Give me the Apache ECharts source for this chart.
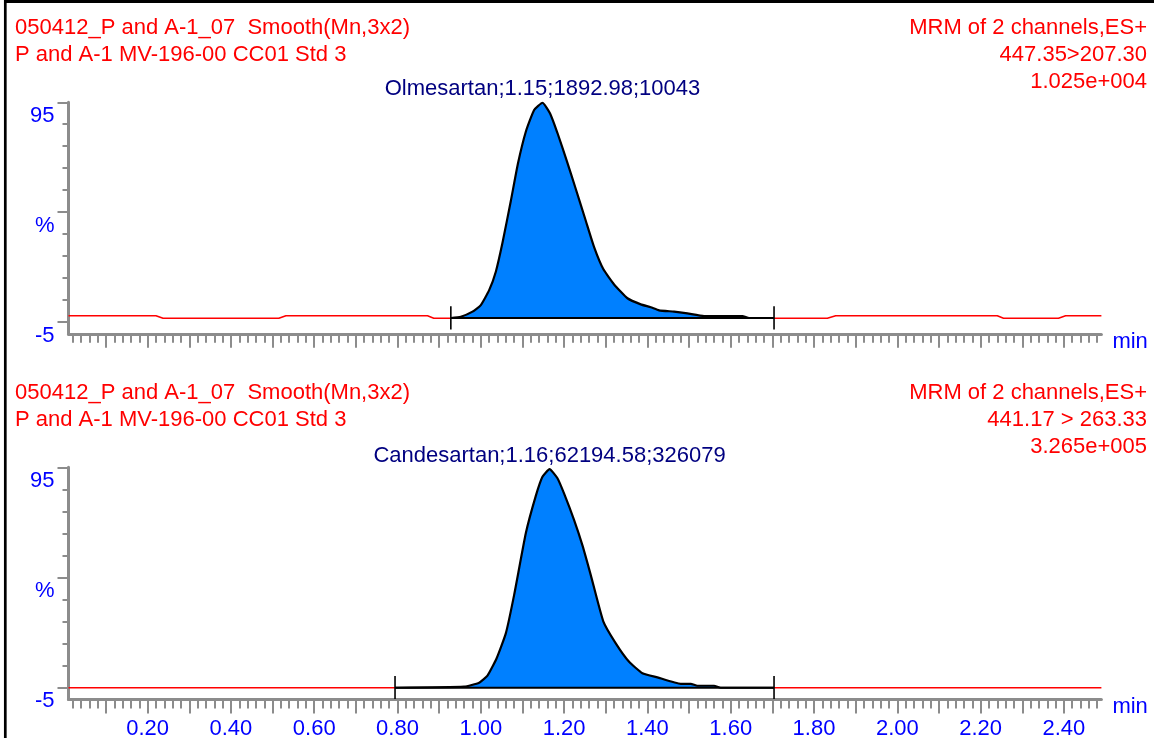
<!DOCTYPE html>
<html><head><meta charset="utf-8">
<script src="https://cdn.jsdelivr.net/npm/echarts@6/dist/echarts.min.js"></script>
<style>html,body{margin:0;padding:0;background:#fff}#c{width:1154px;height:738px}</style>
</head><body><div id="c"></div>
<script>
// ---------- texts ----------
const headerLeftTop = ['050412_P and A-1_07  Smooth(Mn,3x2)', 'P and A-1 MV-196-00 CC01 Std 3'];
const headerRightTop = ['MRM of 2 channels,ES+', '447.35>207.30', '1.025e+004'];
const headerLeftBottom = ['050412_P and A-1_07  Smooth(Mn,3x2)', 'P and A-1 MV-196-00 CC01 Std 3'];
const headerRightBottom = ['MRM of 2 channels,ES+', '441.17 > 263.33', '3.265e+005'];
const peakLabelTop = 'Olmesartan;1.15;1892.98;10043';
const peakLabelBottom = 'Candesartan;1.16;62194.58;326079';
const xAxisName = 'min';

// ---------- axes ----------
const xRange = [0.01, 2.49];
const yRange = [-10.5, 95];
const xLabelValues = [0.2, 0.4, 0.6, 0.8, 1.0, 1.2, 1.4, 1.6, 1.8, 2.0, 2.2, 2.4];
const yLabelValues = [-5, 45, 95];
const yLabelTexts = ['-5', '%', '95'];
const yMinorTicks = [-5, 5, 15, 25, 35, 45, 55, 65, 75, 85, 95];

// ---------- top chromatogram (Olmesartan) ----------
const topTraceLeft = [[0.01,-2.3],[0.22,-2.3],[0.237,-3.4],[0.515,-3.4],[0.532,-2.3],[0.872,-2.3],[0.887,-3.4],[0.928,-3.4]];
const topTraceRight = [[1.704,-3.4],[1.832,-3.4],[1.852,-2.3],[2.240,-2.3],[2.255,-3.4],[2.387,-3.4],[2.404,-2.3],[2.49,-2.3]];
const topPeak = [[0.928,-3.3],[0.952,-2.7],[0.980,-0.4],[1.000,2.6],[1.020,9.4],[1.036,17.8],[1.052,31.0],[1.072,50.0],
  [1.089,67.0],[1.108,81.6],[1.128,91.5],[1.148,94.8],[1.166,90.0],[1.184,81.0],[1.206,68.5],[1.228,55.5],[1.252,41.0],
  [1.272,29.0],[1.294,19.0],[1.320,12.0],[1.352,5.7],[1.384,2.9],[1.408,1.6],[1.428,0.2],[1.464,-0.4],[1.496,-1.2],
  [1.536,-2.4],[1.628,-2.4],[1.644,-3.3],[1.704,-3.3]];
const topIntegration = {start: 0.928, end: 1.704, base: -3.3, markTop: 2.1, markBottom: -8.5};

// ---------- bottom chromatogram (Candesartan) ----------
const bottomTraceLeft = [[0.01,-5.2],[0.794,-5.2]];
const bottomTraceRight = [[1.704,-5.2],[2.49,-5.2]];
const bottomPeak = [[0.794,-5.2],[0.960,-4.7],[0.996,-2.9],[1.016,0.3],[1.038,8.2],[1.060,19.5],[1.080,37.0],[1.108,65.0],
  [1.132,82.0],[1.148,90.7],[1.165,94.2],[1.184,90.0],[1.200,83.0],[1.224,71.0],[1.244,59.5],[1.264,46.0],[1.294,25.0],
  [1.324,15.0],[1.356,6.6],[1.388,1.4],[1.424,-0.5],[1.480,-3.4],[1.504,-3.4],[1.520,-4.3],[1.560,-4.3],[1.576,-5.2],[1.704,-5.2]];
const bottomIntegration = {start: 0.794, end: 1.704, base: -5.2, markTop: 0.1, markBottom: -10.3};

// ---------- style ----------
const FONT = '"Liberation Sans", Arial, sans-serif';
const FS = 22;
const AXIS_GREY = '#8c8c8c';
const LABEL_BLUE = '#0000ff';
const HEAD_RED = '#ff0000';
const PEAK_NAVY = '#000080';
const FILL_BLUE = '#0080ff';

const grids = [
  {left: 68.5, width: 1032.9, top: 102.3, height: 231.5, outerBoundsMode: 'none'},
  {left: 68.5, width: 1032.9, top: 467.3, height: 232.1, outerBoundsMode: 'none'}
];

const xMinorTicks = [];
for (let i = 1; i <= 124; i++) xMinorTicks.push(Math.round(i * 2) / 100);
const xMajorTicks = [];
for (let i = 1; i <= 24; i++) xMajorTicks.push(i / 10);

function xAxesFor(g, showLabels) {
  return [
    {gridIndex: g, type: 'value', position: 'bottom', min: xRange[0], max: xRange[1],
      axisLine: {show: true, onZero: false, lineStyle: {color: AXIS_GREY, width: 3}},
      axisTick: {show: true, customValues: xMinorTicks, length: 9, lineStyle: {color: AXIS_GREY, width: 2}},
      axisLabel: {show: false}, splitLine: {show: false}},
    {gridIndex: g, type: 'value', position: 'bottom', min: xRange[0], max: xRange[1],
      name: '{n|' + xAxisName + '}', nameLocation: 'end', nameGap: 11,
      nameTextStyle: {align: 'left', verticalAlign: 'middle',
        rich: {n: {color: LABEL_BLUE, fontSize: FS, fontFamily: FONT, padding: [16, 0, 0, 0]}}},
      axisLine: {show: false, onZero: false},
      axisTick: {show: true, customValues: xMajorTicks, length: 14, lineStyle: {color: AXIS_GREY, width: 2}},
      axisLabel: {show: showLabels, customValues: xLabelValues, formatter: v => Number(v).toFixed(2),
        color: LABEL_BLUE, fontSize: FS, fontFamily: FONT, margin: 19},
      splitLine: {show: false}}
  ];
}
function yAxesFor(g) {
  return [
    {gridIndex: g, type: 'value', position: 'left', min: yRange[0], max: yRange[1],
      axisLine: {show: true, onZero: false, lineStyle: {color: AXIS_GREY, width: 3}},
      axisTick: {show: true, customValues: yMinorTicks, length: 6, lineStyle: {color: AXIS_GREY, width: 2}},
      axisLabel: {show: false}, splitLine: {show: false}},
    {gridIndex: g, type: 'value', position: 'left', min: yRange[0], max: yRange[1],
      axisLine: {show: false, onZero: false},
      axisTick: {show: true, customValues: yLabelValues, length: 11, lineStyle: {color: AXIS_GREY, width: 2}},
      axisLabel: {show: true, customValues: yLabelValues,
        formatter: v => yLabelTexts[yLabelValues.indexOf(Math.round(v))],
        color: LABEL_BLUE, fontSize: FS, fontFamily: FONT, margin: 14, verticalAlign: 'top', padding: [3, 0, 0, 0]},
      splitLine: {show: false}}
  ];
}

function seriesFor(ax, trL, trR, peak, integ, label) {
  const apex = peak.reduce((a, b) => (b[1] > a[1] ? b : a));
  const common = {type: 'line', xAxisIndex: ax, yAxisIndex: ax, symbol: 'none', silent: true, animation: false};
  return [
    Object.assign({}, common, {data: trL, lineStyle: {color: HEAD_RED, width: 1.6}}),
    Object.assign({}, common, {data: trR, lineStyle: {color: HEAD_RED, width: 1.6}}),
    Object.assign({}, common, {data: peak, smooth: 0.15, lineStyle: {color: '#000', width: 2.2},
      areaStyle: {color: FILL_BLUE, opacity: 1, origin: integ.base},
      markPoint: {silent: true, symbol: 'circle', symbolSize: 1, itemStyle: {color: 'rgba(0,0,0,0)'},
        animation: false,
        label: {show: true, position: 'top', distance: 2, formatter: label, color: PEAK_NAVY,
          fontSize: FS, fontFamily: FONT},
        data: [{coord: apex}]}}),
    Object.assign({}, common, {data: [[integ.start, integ.base], [integ.end, integ.base]], lineStyle: {color: '#000', width: 2.2}}),
    Object.assign({}, common, {data: [[integ.start, integ.markTop], [integ.start, integ.markBottom]], lineStyle: {color: '#000', width: 1.6}}),
    Object.assign({}, common, {data: [[integ.end, integ.markTop], [integ.end, integ.markBottom]], lineStyle: {color: '#000', width: 1.6}})
  ];
}

function headerTexts(lines, x, y0, align) {
  return lines.map((t, i) => ({type: 'text', x: x, y: y0 + i * 27, silent: true,
    style: {text: t, fill: HEAD_RED, fontSize: FS, fontFamily: FONT, align: align, verticalAlign: 'middle'}}));
}

const chart = echarts.init(document.getElementById('c'), null, {renderer: 'canvas'});
chart.setOption({
  animation: false,
  backgroundColor: '#fff',
  grid: grids,
  xAxis: xAxesFor(0, false).concat(xAxesFor(1, true)),
  yAxis: yAxesFor(0).concat(yAxesFor(1)),
  series: seriesFor(0, topTraceLeft, topTraceRight, topPeak, topIntegration, peakLabelTop)
    .concat(seriesFor(2, bottomTraceLeft, bottomTraceRight, bottomPeak, bottomIntegration, peakLabelBottom)),
  graphic: [
    {type: 'line', silent: true, shape: {x1: 4, y1: 1.5, x2: 1154, y2: 1.5}, style: {stroke: '#000', lineWidth: 3}},
    {type: 'line', silent: true, shape: {x1: 5.3, y1: 0, x2: 5.3, y2: 738}, style: {stroke: '#000', lineWidth: 2.7}}
  ].concat(headerTexts(headerLeftTop, 15, 28.3, 'left'))
   .concat(headerTexts(headerRightTop, 1147, 28.3, 'right'))
   .concat(headerTexts(headerLeftBottom, 15, 393.3, 'left'))
   .concat(headerTexts(headerRightBottom, 1147, 393.3, 'right'))
});
</script>
</body></html>
